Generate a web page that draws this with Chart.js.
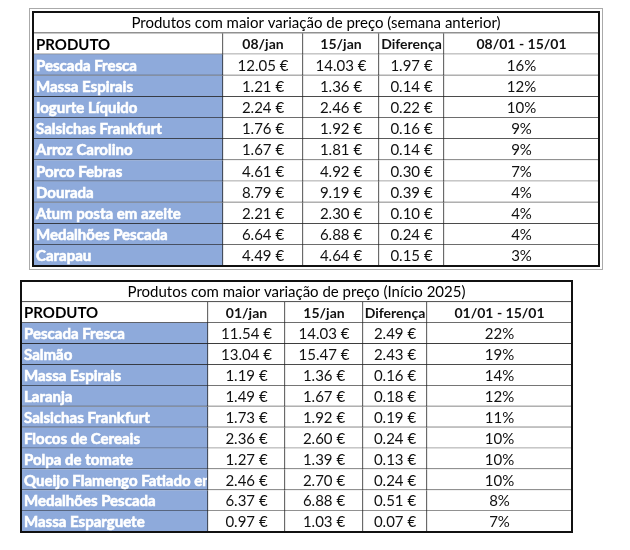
<!DOCTYPE html>
<html>
<head>
<meta charset="utf-8">
<script src="https://cdn.jsdelivr.net/npm/chart.js@4"></script>
<style>
body { margin: 0; background: #fff; }
canvas { position: absolute; left: 0; top: 0; }
</style>
</head>
<body>
<canvas id="tabela-semana" width="630" height="550"></canvas>
<canvas id="tabela-inicio" width="630" height="550"></canvas>
<script>
// --- dados: semana anterior ---
const tituloSemana = 'Produtos com maior variação de preço (semana anterior)';
const cabecalhoSemana = ['PRODUTO', '08/jan', '15/jan', 'Diferença', '08/01 - 15/01'];
const produtosSemana = ['Pescada Fresca', 'Massa Espirais', 'Iogurte Líquido', 'Salsichas Frankfurt', 'Arroz Carolino',
	'Porco Febras', 'Dourada', 'Atum posta em azeite', 'Medalhões Pescada', 'Carapau'];
const precos08jan = [12.05, 1.21, 2.24, 1.76, 1.67, 4.61, 8.79, 2.21, 6.64, 4.49];
const precos15janSemana = [14.03, 1.36, 2.46, 1.92, 1.81, 4.92, 9.19, 2.30, 6.88, 4.64];
const diferencaSemana = [1.97, 0.14, 0.22, 0.16, 0.14, 0.30, 0.39, 0.10, 0.24, 0.15];
const variacaoSemana = [16, 12, 10, 9, 9, 7, 4, 4, 4, 3];

// --- dados: inicio 2025 ---
const tituloInicio = 'Produtos com maior variação de preço (Início 2025)';
const cabecalhoInicio = ['PRODUTO', '01/jan', '15/jan', 'Diferença', '01/01 - 15/01'];
const produtosInicio = ['Pescada Fresca', 'Salmão', 'Massa Espirais', 'Laranja', 'Salsichas Frankfurt',
	'Flocos de Cereais', 'Polpa de tomate', 'Queijo Flamengo Fatiado em', 'Medalhões Pescada', 'Massa Esparguete'];
const precos01jan = [11.54, 13.04, 1.19, 1.49, 1.73, 2.36, 1.27, 2.46, 6.37, 0.97];
const precos15janInicio = [14.03, 15.47, 1.36, 1.67, 1.92, 2.60, 1.39, 2.70, 6.88, 1.03];
const diferencaInicio = [2.49, 2.43, 0.16, 0.18, 0.19, 0.24, 0.13, 0.24, 0.51, 0.07];
const variacaoInicio = [22, 19, 14, 12, 11, 10, 10, 10, 8, 7];

const azul = '#8eaadb';
const fonte = 'Lato, "Open Sans", sans-serif';
const euro = v => v.toFixed(2) + ' €';
const pct = v => v + '%';

// limites das colunas (largura acumulada) e posicao de cada tabela
function criarTabela(id, titulo, cabecalho, produtos, colunas, limites, padding, moldura) {
	const W = limites[limites.length - 1];
	const linhas = ['titulo', 'cabecalho', ...produtos];
	const textos = [
		linhas.map((_, i) => i === 0 ? titulo : null)
	];
	for (let c = 0; c < 5; c++) {
		textos.push(linhas.map((_, i) => {
			if (i === 0) return null;
			if (i === 1) return cabecalho[c];
			return c === 0 ? produtos[i - 2] : colunas[c - 1][i - 2];
		}));
	}

	const datasets = [{
		label: 'titulo',
		data: linhas.map((_, i) => i === 0 ? [0, W] : null),
		backgroundColor: '#fff',
		borderColor: '#222',
		borderWidth: { top: 0, left: 0, right: 0, bottom: 1 },
		borderSkipped: false
	}];
	for (let c = 0; c < 5; c++) {
		datasets.push({
			label: cabecalho[c],
			data: linhas.map((_, i) => i === 0 ? null : [limites[c], limites[c + 1]]),
			backgroundColor: linhas.map((_, i) => c === 0 && i >= 2 ? azul : '#fff'),
			borderColor: '#222',
			borderWidth: { top: 0, left: 0, right: 1, bottom: 1 },
			borderSkipped: false
		});
	}

	const pluginTexto = {
		id: 'textoCelulas',
		afterDatasetsDraw(chart) {
			const ctx = chart.ctx;
			ctx.save();
			ctx.textBaseline = 'middle';
			chart.data.datasets.forEach((ds, d) => {
				chart.getDatasetMeta(d).data.forEach((el, i) => {
					const t = textos[d][i];
					if (t == null) return;
					const p = el.getProps(['x', 'y', 'base', 'height'], true);
					const esq = Math.min(p.x, p.base), dir = Math.max(p.x, p.base);
					ctx.save();
					ctx.beginPath();
					ctx.rect(esq, p.y - p.height / 2, dir - esq - 1, p.height);
					ctx.clip();
					if (d === 0) {
						ctx.font = '15px ' + fonte;
						ctx.fillStyle = '#000';
						ctx.textAlign = 'center';
						ctx.fillText(t, (esq + dir) / 2, p.y + 1);
					} else if (d === 1) {
						ctx.font = 'bold 15px ' + fonte;
						ctx.fillStyle = i === 1 ? '#000' : '#fff';
						ctx.textAlign = 'left';
						if (i > 1) {
							// texto branco mais carregado, como no original
							ctx.strokeStyle = '#fff';
							ctx.lineWidth = 0.6;
							ctx.strokeText(t, esq + 3, p.y + 1);
						}
						ctx.fillText(t, esq + 3, p.y + 1);
					} else {
						ctx.font = (i === 1 ? 'bold 14px ' : '15px ') + fonte;
						ctx.fillStyle = '#111';
						ctx.textAlign = 'center';
						ctx.fillText(t, (esq + dir) / 2, p.y + 1);
					}
					ctx.restore();
				});
			});
			ctx.restore();
		},
		afterDraw(chart) {
			const { ctx, chartArea: a } = chart;
			ctx.save();
			ctx.strokeStyle = '#111';
			ctx.lineWidth = 2;
			ctx.strokeRect(a.left, a.top, a.right - a.left, a.bottom - a.top);
			if (moldura) {
				ctx.strokeStyle = '#aaa';
				ctx.lineWidth = 1;
				ctx.strokeRect(a.left - 3.5, a.top - 3.5, a.right - a.left + 7, a.bottom - a.top + 7);
			}
			ctx.restore();
		}
	};

	return new Chart(document.getElementById(id), {
		type: 'bar',
		data: { labels: linhas, datasets: datasets },
		options: {
			indexAxis: 'y',
			responsive: false,
			animation: false,
			events: [],
			layout: { padding: padding },
			datasets: { bar: { grouped: false, categoryPercentage: 1, barPercentage: 1 } },
			scales: {
				x: { display: false, min: 0, max: W },
				y: { display: false }
			},
			plugins: { legend: { display: false }, tooltip: { enabled: false } }
		},
		plugins: [pluginTexto]
	});
}

window.addEventListener('load', function () {
	criarTabela('tabela-semana', tituloSemana, cabecalhoSemana, produtosSemana,
		[precos08jan.map(euro), precos15janSemana.map(euro), diferencaSemana.map(euro), variacaoSemana.map(pct)],
		[0, 190, 270, 346, 411, 566],
		{ left: 33, right: 31, top: 12, bottom: 284 }, true);
	criarTabela('tabela-inicio', tituloInicio, cabecalhoInicio, produtosInicio,
		[precos01jan.map(euro), precos15janInicio.map(euro), diferencaInicio.map(euro), variacaoInicio.map(pct)],
		[0, 187, 264, 342, 406, 551],
		{ left: 21, right: 58, top: 281, bottom: 18 }, false);
});
</script>
</body>
</html>
